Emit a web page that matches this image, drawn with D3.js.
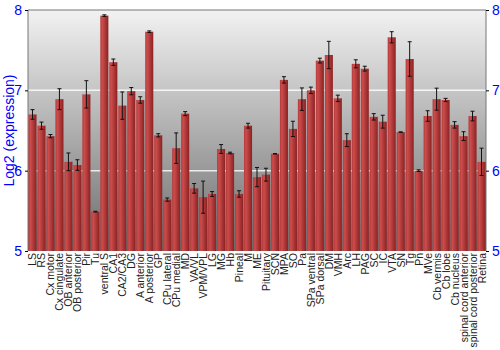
<!DOCTYPE html>
<html>
<head>
<meta charset="utf-8">
<script src="https://cdn.jsdelivr.net/npm/d3@7"></script>
<style>
  body { margin: 0; background: #fff; }
  text { font-family: "Liberation Sans", Arial, sans-serif; }
</style>
</head>
<body>
<div id="chart"></div>
<script>
const regions = ["LS", "RS", "Cx motor", "Cx cingulate", "OB anterior", "OB posterior", "Pir", "Tu",
  "ventral S", "CA1", "CA2/CA3", "DG", "A anterior", "A posterior", "GP", "CPu lateral", "CPu medial",
  "MD", "VA/VL", "VPM/VPL", "LG", "MG", "Hb", "Pineal", "M", "ME", "Pituitary", "SCN", "MPA", "SO",
  "Pa", "SPa ventral", "SPa dorsal", "DM", "VMH", "Arc", "LH", "PAG", "SC", "IC", "VTA", "SN", "Tg",
  "Pn", "MVe", "Cb vermis", "Cb lobe", "Cb nucleus", "spinal cord anterior", "spinal cord posterior", "Retina"];

const expression = [6.70, 6.56, 6.43, 6.89, 6.11, 6.07, 6.95, 5.49,
  7.93, 7.35, 6.81, 6.99, 6.88, 7.73, 6.44, 5.64, 6.28,
  6.71, 5.78, 5.67, 5.71, 6.27, 6.22, 5.71, 6.56, 5.92, 5.95, 6.21, 7.13, 6.52,
  6.89, 7.00, 7.37, 7.44, 6.90, 6.38, 7.33, 7.27, 6.67, 6.61, 7.66, 6.48, 7.39,
  6.00, 6.68, 6.89, 6.88, 6.57, 6.43, 6.68, 6.11];

const errors = [0.06, 0.045, 0.02, 0.13, 0.11, 0.066, 0.17, 0.005,
  0.01, 0.04, 0.17, 0.045, 0.04, 0.01, 0.02, 0.02, 0.19,
  0.025, 0.06, 0.2, 0.03, 0.055, 0.01, 0.04, 0.03, 0.12, 0.08, 0.003, 0.04, 0.095,
  0.14, 0.04, 0.03, 0.17, 0.04, 0.08, 0.05, 0.03, 0.04, 0.08, 0.07, 0.003, 0.215,
  0.01, 0.066, 0.137, 0.02, 0.04, 0.055, 0.06, 0.17];

const yTicks = [5, 6, 7, 8];

const width = 500, height = 350;
const margin = {top: 10, right: 14, bottom: 99, left: 28};
const innerW = width - margin.left - margin.right;
const innerH = height - margin.top - margin.bottom;

const svg = d3.select("#chart").append("svg")
  .attr("width", width)
  .attr("height", height);

const defs = svg.append("defs");

// grey background fade, light at top
const bg = defs.append("linearGradient")
  .attr("id", "bg").attr("x1", 0).attr("y1", 0).attr("x2", 0).attr("y2", 1);
bg.append("stop").attr("offset", "0%").attr("stop-color", "#f2f2f2");
bg.append("stop").attr("offset", "100%").attr("stop-color", "#6c6c6c");

// bar shading, left to right
const barGrad = defs.append("linearGradient")
  .attr("id", "bar").attr("x1", 0).attr("y1", 0).attr("x2", 1).attr("y2", 0);
barGrad.append("stop").attr("offset", "0%").attr("stop-color", "#b53b3b");
barGrad.append("stop").attr("offset", "25%").attr("stop-color", "#cd4c4c");
barGrad.append("stop").attr("offset", "100%").attr("stop-color", "#8a2222");

const g = svg.append("g")
  .attr("transform", `translate(${margin.left},${margin.top})`);

const x = d3.scaleBand()
  .domain(regions)
  .range([0, innerW])
  .paddingInner(0.1)
  .paddingOuter(0.05);

const y = d3.scaleLinear()
  .domain([5, 8])
  .range([innerH, 0]);

g.append("rect")
  .attr("width", innerW)
  .attr("height", innerH)
  .attr("fill", "url(#bg)");

// white grid lines
g.selectAll("line.grid")
  .data(yTicks.filter(t => t > 5 && t < 8))
  .join("line")
  .attr("class", "grid")
  .attr("x1", 0).attr("x2", innerW)
  .attr("y1", d => y(d)).attr("y2", d => y(d))
  .attr("stroke", "#fff")
  .attr("stroke-opacity", 0.8)
  .attr("stroke-width", 1.5);

// frame
g.append("path")
  .attr("d", `M0,${innerH}V0H${innerW}V${innerH}`)
  .attr("fill", "none")
  .attr("stroke", "#777")
  .attr("stroke-width", 1);

const data = regions.map((r, i) => ({name: r, value: expression[i], err: errors[i]}));

g.selectAll("rect.bar")
  .data(data)
  .join("rect")
  .attr("class", "bar")
  .attr("x", d => x(d.name))
  .attr("y", d => y(d.value))
  .attr("width", x.bandwidth())
  .attr("height", d => innerH - y(d.value))
  .attr("fill", "url(#bar)");

// error bars
const eb = g.selectAll("g.err")
  .data(data)
  .join("g")
  .attr("class", "err")
  .attr("transform", d => `translate(${x(d.name) + x.bandwidth() / 2},0)`)
  .attr("stroke", "#111")
  .attr("stroke-width", 1);

eb.append("line")
  .attr("y1", d => y(d.value - d.err))
  .attr("y2", d => y(d.value + d.err));
eb.append("line")
  .attr("x1", -2).attr("x2", 2)
  .attr("y1", d => y(d.value + d.err)).attr("y2", d => y(d.value + d.err));
eb.append("line")
  .attr("x1", -2).attr("x2", 2)
  .attr("y1", d => y(d.value - d.err)).attr("y2", d => y(d.value - d.err));

// axes on both sides
const leftAxis = g.append("g")
  .call(d3.axisLeft(y).tickValues(yTicks).tickFormat(d3.format("d")).tickSize(3).tickPadding(3));
const rightAxis = g.append("g")
  .attr("transform", `translate(${innerW},0)`)
  .call(d3.axisRight(y).tickValues(yTicks).tickFormat(d3.format("d")).tickSize(3).tickPadding(3));

[leftAxis, rightAxis].forEach(a => {
  a.select(".domain").remove();
  a.selectAll(".tick line").attr("stroke", "#000");
  a.selectAll(".tick text")
    .attr("fill", "#0000ff")
    .attr("font-size", 14)
    .style("font-family", "'Liberation Sans', Arial, sans-serif");
});

// category labels, rotated
g.append("g")
  .selectAll("text")
  .data(regions)
  .join("text")
  .attr("transform", d => `translate(${x(d) + x.bandwidth() / 2 + 4},${innerH + 2}) rotate(-90)`)
  .attr("text-anchor", "end")
  .attr("font-size", 10.5)
  .attr("fill", "#222")
  .text(d => d);

svg.append("text")
  .attr("transform", `translate(14,${margin.top + innerH / 2}) rotate(-90)`)
  .attr("text-anchor", "middle")
  .attr("font-size", 14)
  .attr("fill", "#0000ff")
  .text("Log2 (expression)");
</script>
</body>
</html>
